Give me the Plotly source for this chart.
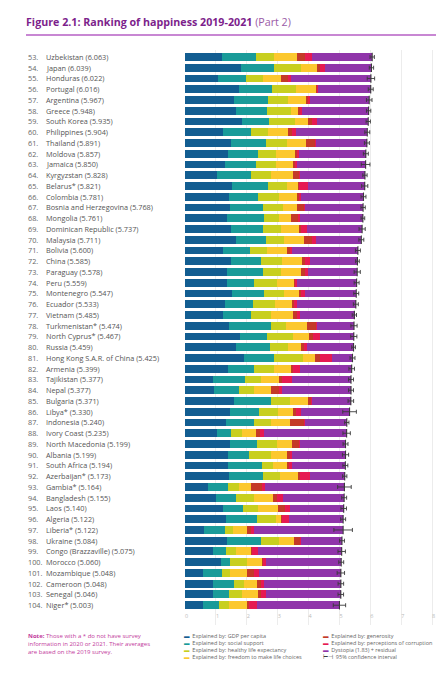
import plotly.graph_objects as go

# ---------------- data ----------------
ranks = list(range(53, 105))
countries = [
    "Uzbekistan", "Japan", "Honduras", "Portugal", "Argentina", "Greece",
    "South Korea", "Philippines", "Thailand", "Moldova", "Jamaica", "Kyrgyzstan",
    "Belarus*", "Colombia", "Bosnia and Herzegovina", "Mongolia",
    "Dominican Republic", "Malaysia", "Bolivia", "China", "Paraguay", "Peru",
    "Montenegro", "Ecuador", "Vietnam", "Turkmenistan*", "North Cyprus*",
    "Russia", "Hong Kong S.A.R. of China", "Armenia", "Tajikistan", "Nepal",
    "Bulgaria", "Libya*", "Indonesia", "Ivory Coast", "North Macedonia",
    "Albania", "South Africa", "Azerbaijan*", "Gambia*", "Bangladesh", "Laos",
    "Algeria", "Liberia*", "Ukraine", "Congo (Brazzaville)", "Morocco",
    "Mozambique", "Cameroon", "Senegal", "Niger*",
]
scores = [
    6.063, 6.039, 6.022, 6.016, 5.967, 5.948, 5.935, 5.904, 5.891, 5.857,
    5.850, 5.828, 5.821, 5.781, 5.768, 5.761, 5.737, 5.711, 5.600, 5.585,
    5.578, 5.559, 5.547, 5.533, 5.485, 5.474, 5.467, 5.459, 5.425, 5.399,
    5.377, 5.377, 5.371, 5.330, 5.240, 5.235, 5.199, 5.199, 5.194, 5.173,
    5.164, 5.155, 5.140, 5.122, 5.122, 5.084, 5.075, 5.060, 5.048, 5.048,
    5.046, 5.003,
]
gdp = [
    1.20, 1.82, 1.07, 1.74, 1.58, 1.66, 1.84, 1.23, 1.50, 1.38,
    1.28, 1.03, 1.52, 1.42, 1.45, 1.36, 1.49, 1.64, 1.22, 1.49,
    1.37, 1.36, 1.52, 1.29, 1.22, 1.43, 1.77, 1.64, 1.91, 1.40,
    0.92, 0.95, 1.59, 1.45, 1.34, 1.05, 1.47, 1.40, 1.40, 1.42,
    0.75, 1.01, 1.23, 1.34, 0.61, 1.37, 0.92, 1.17, 0.57, 0.92,
    0.91, 0.57,
]
social = [
    1.09, 1.07, 0.90, 1.07, 1.10, 0.99, 0.88, 0.92, 1.11, 1.00,
    1.03, 1.12, 1.17, 0.93, 1.07, 1.21, 1.02, 0.97, 0.88, 0.96,
    1.14, 0.88, 1.05, 0.90, 0.93, 1.34, 0.90, 1.11, 0.98, 0.84,
    1.02, 0.79, 1.18, 0.95, 0.90, 0.45, 0.87, 0.66, 1.09, 1.10,
    0.64, 0.64, 0.64, 0.98, 0.67, 1.10, 0.41, 0.28, 0.64, 0.68,
    0.52, 0.54,
]
health = [
    0.60, 0.87, 0.55, 0.79, 0.64, 0.79, 0.85, 0.53, 0.68, 0.58,
    0.65, 0.64, 0.62, 0.71, 0.66, 0.47, 0.59, 0.61, 0.57, 0.68,
    0.61, 0.73, 0.64, 0.74, 0.62, 0.50, 0.82, 0.60, 0.92, 0.64,
    0.51, 0.51, 0.62, 0.61, 0.53, 0.35, 0.63, 0.71, 0.35, 0.55,
    0.35, 0.60, 0.48, 0.63, 0.27, 0.59, 0.33, 0.55, 0.26, 0.32,
    0.42, 0.32,
]
freedom = [
    0.73, 0.54, 0.59, 0.66, 0.59, 0.25, 0.40, 0.66, 0.64, 0.61,
    0.57, 0.70, 0.36, 0.57, 0.46, 0.40, 0.61, 0.65, 0.63, 0.66,
    0.64, 0.57, 0.49, 0.55, 0.72, 0.67, 0.54, 0.41, 0.41, 0.58,
    0.59, 0.52, 0.59, 0.50, 0.63, 0.46, 0.50, 0.53, 0.47, 0.62,
    0.39, 0.61, 0.67, 0.16, 0.45, 0.48, 0.48, 0.50, 0.55, 0.41,
    0.52, 0.60,
]
generosity = [
    0.28, 0.06, 0.24, 0.02, 0.08, 0.02, 0.13, 0.11, 0.29, 0.07,
    0.05, 0.21, 0.03, 0.06, 0.24, 0.23, 0.04, 0.23, 0.13, 0.09,
    0.12, 0.03, 0.07, 0.04, 0.14, 0.33, 0.10, 0.11, 0.15, 0.04,
    0.11, 0.28, 0.11, 0.10, 0.47, 0.12, 0.23, 0.11, 0.09, 0.03,
    0.35, 0.13, 0.22, 0.03, 0.15, 0.20, 0.04, 0.02, 0.21, 0.13,
    0.10, 0.03,
]
corruption = [
    0.22, 0.17, 0.08, 0.03, 0.07, 0.07, 0.16, 0.13, 0.03, 0.06,
    0.06, 0.02, 0.27, 0.08, 0.01, 0.05, 0.20, 0.13, 0.02, 0.16,
    0.10, 0.06, 0.11, 0.11, 0.10, 0.01, 0.23, 0.09, 0.40, 0.22,
    0.30, 0.08, 0.01, 0.15, 0.02, 0.13, 0.03, 0.04, 0.05, 0.32,
    0.11, 0.17, 0.15, 0.22, 0.10, 0.01, 0.20, 0.09, 0.16, 0.09,
    0.14, 0.26,
]
dystopia = [
    1.94, 1.51, 2.59, 1.71, 1.91, 2.17, 1.68, 2.32, 1.64, 2.16,
    2.21, 2.11, 1.85, 2.01, 1.88, 2.04, 1.79, 1.48, 2.15, 1.55,
    1.60, 1.93, 1.67, 1.90, 1.76, 1.19, 1.11, 1.50, 0.66, 1.68,
    1.93, 2.25, 1.27, 1.57, 1.35, 2.68, 1.47, 1.75, 1.74, 1.13,
    2.57, 2.00, 1.75, 1.76, 2.87, 1.33, 2.70, 2.45, 2.66, 2.50,
    2.44, 2.68,
]
ci_half = [
    0.07, 0.07, 0.12, 0.08, 0.09, 0.07, 0.07, 0.08, 0.08, 0.08,
    0.14, 0.07, 0.10, 0.08, 0.07, 0.06, 0.10, 0.08, 0.08, 0.06,
    0.10, 0.08, 0.08, 0.08, 0.07, 0.10, 0.10, 0.06, 0.08, 0.09,
    0.08, 0.08, 0.09, 0.22, 0.07, 0.12, 0.08, 0.10, 0.08, 0.07,
    0.22, 0.08, 0.09, 0.08, 0.30, 0.08, 0.12, 0.08, 0.12, 0.09,
    0.09, 0.20,
]
x_ticks = [0, 1, 2, 3, 4, 5, 6, 7, 8]

segments = [
    ("Explained by: GDP per capita", gdp, "#125d91"),
    ("Explained by: social support", social, "#199b99"),
    ("Explained by: healthy life expectancy", health, "#c8cf1f"),
    ("Explained by: freedom to make life choices", freedom, "#fcc82e"),
    ("Explained by: generosity", generosity, "#c43a28"),
    ("Explained by: perceptions of corruption", corruption, "#e61a52"),
    ("Dystopia (1.83) + residual", dystopia, "#9035aa"),
]

FONT = "Open Sans"
PURPLE = "#7d1f8c"
OFF = 8  # the page body adds an 8px margin, so lay out in page pixels minus that

fig = go.Figure()
for name, vals, col in segments:
    fig.add_trace(go.Bar(
        x=vals, y=countries, orientation="h", name=name,
        marker=dict(color=col, line=dict(width=0)),
        width=0.74, showlegend=False,
    ))

# score tick + 95% confidence interval whiskers
fig.add_trace(go.Scatter(
    x=scores, y=countries, mode="markers", name="95% confidence interval",
    marker=dict(symbol="line-ns", size=6, line=dict(width=1.1, color="#3a3a3a")),
    error_x=dict(type="data", array=ci_half, color="#3a3a3a", thickness=0.9, width=2),
    showlegend=False,
))

# page-pixel geometry of the plot area
L_PX, W_PX = 185, 254
T_PX, B_PX = 50, 625
H_PX = B_PX - T_PX

def px_to_paper_x(px):
    return (px - L_PX) / W_PX

def px_to_paper_y(py):
    return (B_PX - py) / H_PX

annotations = []
for r, c, s in zip(ranks, countries, scores):
    annotations.append(dict(
        x=px_to_paper_x(26), xref="paper", y=c, yref="y", xanchor="left",
        text=f"{r}.", showarrow=False, font=dict(family=FONT, size=7.3, color="#666666"),
    ))
    annotations.append(dict(
        x=px_to_paper_x(44), xref="paper", y=c, yref="y", xanchor="left",
        text=f"{c} ({s:.3f})", showarrow=False,
        font=dict(family=FONT, size=7.3, color="#555555"),
    ))

# bottom note
annotations.append(dict(
    x=px_to_paper_x(26), xref="paper", y=px_to_paper_y(630), yref="paper",
    xanchor="left", yanchor="top", align="left", showarrow=False,
    text=("<b>Note:</b> Those with a * do not have survey<br>"
          "information in 2020 or 2021. Their averages<br>"
          "are based on the 2019 survey."),
    font=dict(family=FONT, size=6.0, color="#c2399c"),
))

# legend built as two text columns
def legend_col(items):
    lines = []
    for label, col, sym in items:
        lines.append(f"<span style='color:{col}'>{sym}</span>  {label}")
    return "<br>".join(lines)

col1 = [(n, c, "▬") for n, _, c in segments[:4]]
col2 = [(n, c, "▬") for n, _, c in segments[4:]]
col2.append(("95% confidence interval", "#3a3a3a", "⊢⊣"))
for xpx, items in [(182, col1), (321, col2)]:
    annotations.append(dict(
        x=px_to_paper_x(xpx), xref="paper", y=px_to_paper_y(630), yref="paper",
        xanchor="left", yanchor="top", align="left", showarrow=False,
        text=legend_col(items), font=dict(family=FONT, size=5.5, color="#666666"),
    ))

fig.update_layout(
    width=444 - OFF, height=680 - OFF,
    margin=dict(l=L_PX - OFF, r=444 - L_PX - W_PX, t=T_PX - OFF, b=680 - B_PX),
    barmode="stack",
    bargap=0.26,
    paper_bgcolor="white", plot_bgcolor="white",
    title=dict(
        text=("<b>Figure 2.1: Ranking of happiness 2019-2021</b> "
              "<span style='color:#9a5aa6'>(Part 2)</span>"),
        x=(26 - OFF) / (444 - OFF), xanchor="left", xref="container",
        y=1 - (22 - OFF) / (680 - OFF), yanchor="middle", yref="container",
        font=dict(family=FONT, size=10.7, color=PURPLE),
    ),
    xaxis=dict(
        range=[0, W_PX / 30.875], tickvals=x_ticks, ticktext=[str(t) for t in x_ticks],
        showgrid=True, gridcolor="#ececec", gridwidth=0.8, zeroline=False,
        showline=False, ticks="", ticklabelposition="inside right",
        tickfont=dict(family=FONT, size=5.5, color="#bbbbbb"),
    ),
    yaxis=dict(
        categoryorder="array", categoryarray=countries,
        range=[52.84, -0.65], showticklabels=False, showgrid=False,
        zeroline=False, ticks="",
    ),
    annotations=annotations,
    shapes=[dict(
        type="line", xref="paper", yref="paper",
        x0=px_to_paper_x(26), x1=px_to_paper_x(444 - OFF),
        y0=px_to_paper_y(35), y1=px_to_paper_y(35),
        line=dict(color="#b65fc4", width=1.4),
    )],
    showlegend=False,
)

fig.write_html("out.html")
